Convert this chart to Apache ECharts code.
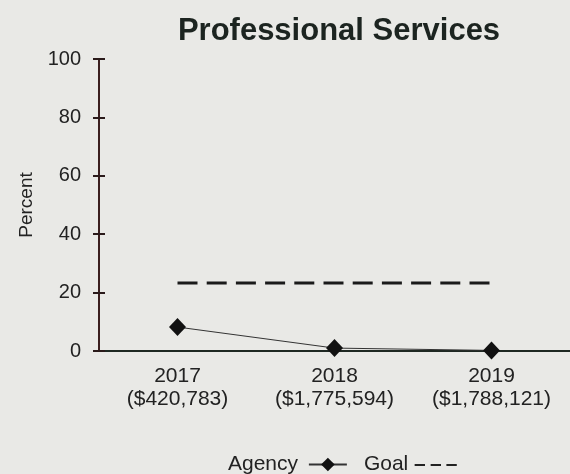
<!DOCTYPE html>
<html><head><meta charset="utf-8">
<script src="https://cdn.jsdelivr.net/npm/echarts@6/dist/echarts.min.js"></script>
<style>html,body{margin:0;padding:0;background:#e9e9e6;}#c{width:570px;height:474px;}</style>
</head><body><div id="c"></div>
<script>
var years = ['2017', '2018', '2019'];
var amounts = ['($420,783)', '($1,775,594)', '($1,788,121)'];
var agency = [8.2, 1.0, 0.2];
var goal = [23.3, 23.3, 23.3];
var yTicks = [0, 20, 40, 60, 80, 100];

var categories = years.map(function (y, i) { return y + '\n' + amounts[i]; });
var font = 'Liberation Sans, Arial, sans-serif';
var chart = echarts.init(document.getElementById('c'));
chart.setOption({
  backgroundColor: '#e9e9e6',
  animation: false,
  title: {
    text: 'Professional Services', left: 334, top: 11, textAlign: 'center',
    textStyle: { fontFamily: font, fontSize: 31, fontWeight: 'bold', color: '#1c2420' }
  },
  grid: { left: 99, top: 59, height: 292, width: 482 },
  xAxis: [{
    type: 'category', data: categories, boundaryGap: true,
    axisLine: { lineStyle: { color: '#1e2822', width: 2 } },
    axisTick: { alignWithLabel: true, length: 6, lineStyle: { color: '#1e2822', width: 1.5 } },
    axisLabel: { margin: 14, fontFamily: font, fontSize: 21, color: '#222', lineHeight: 23 },
    splitLine: { show: false }
  }, {
    type: 'category', data: categories, boundaryGap: true, position: 'bottom',
    axisLine: { show: false },
    axisTick: { alignWithLabel: true, inside: true, length: 6, lineStyle: { color: '#1e2822', width: 1.5 } },
    axisLabel: { show: false },
    splitLine: { show: false }
  }],
  yAxis: [{
    type: 'value', min: yTicks[0], max: yTicks[yTicks.length - 1], interval: 20,
    name: 'Percent', nameLocation: 'middle', nameGap: 61, nameRotate: 90,
    nameTextStyle: { fontFamily: font, fontSize: 19, color: '#222' },
    axisLine: { show: true, lineStyle: { color: '#3a1e1e', width: 2 } },
    axisTick: { show: true, length: 6, lineStyle: { color: '#2a1a1a', width: 2 } },
    axisLabel: { margin: 18, fontFamily: font, fontSize: 20, color: '#222' },
    splitLine: { show: false }
  }, {
    type: 'value', position: 'left', min: yTicks[0], max: yTicks[yTicks.length - 1], interval: 20,
    axisLine: { show: false },
    axisTick: { show: true, inside: true, length: 6, lineStyle: { color: '#2a1a1a', width: 2 } },
    axisLabel: { show: false },
    splitLine: { show: false }
  }],
  legend: {
    left: 223, top: 449, align: 'right', itemGap: 16, itemWidth: 38, itemHeight: 17,
    textStyle: {
      fontFamily: font, fontSize: 21, color: '#222',
      rich: { d: { fontFamily: font, fontSize: 21, fontWeight: 'bold', color: '#222' } }
    },
    formatter: function (n) { return n === 'Goal' ? 'Goal {d|\u2013\u2009\u2013\u2009\u2013}' : n + ' '; },
    data: [{ name: 'Agency' }, { name: 'Goal', icon: 'none' }]
  },
  series: [{
    name: 'Agency', type: 'line', data: agency,
    symbol: 'diamond', symbolSize: [17, 18],
    itemStyle: { color: '#111' },
    lineStyle: { color: '#333', width: 1 }
  }, {
    name: 'Goal', type: 'line', data: goal, showSymbol: false, symbol: 'none',
    lineStyle: { color: '#1a1a1a', width: 3, type: [20, 9.2] }
  }]
});
</script></body></html>
